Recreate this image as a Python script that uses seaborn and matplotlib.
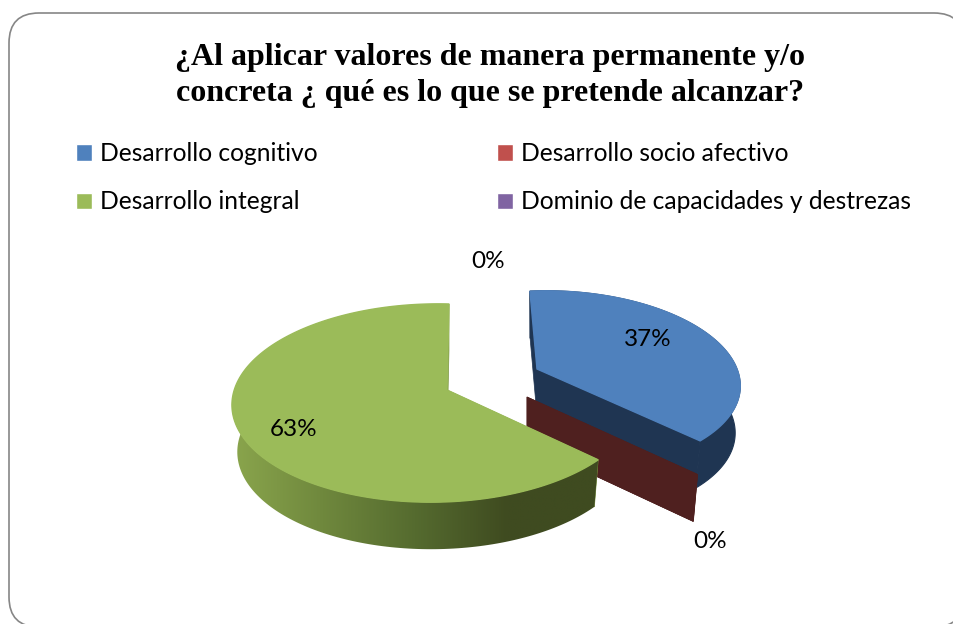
# 3d style pie of the survey answers, side walls are drawn by hand from the pie angles
import numpy as np
import matplotlib
matplotlib.use('Agg')
import matplotlib.pyplot as plt
from matplotlib.colors import LinearSegmentedColormap
from matplotlib.patches import FancyBboxPatch, Patch, Polygon
import seaborn as sns

title = '¿Al aplicar valores de manera permanente y/o\nconcreta ¿ qué es lo que se pretende alcanzar?'
categories = ['Desarrollo cognitivo', 'Desarrollo socio afectivo',
              'Desarrollo integral', 'Dominio de capacidades y destrezas']
values = [37, 0, 63, 0]

sns.set_theme(style='white')
palette = sns.color_palette(['#4f81bd', '#c0504d', '#9bbb59', '#8064a2'])
wall_colors = ['#1f3552', '#4f201f', '#7f9a45', None]
shade_colors = ['#8ba64d', '#6f883d', '#556b2f', '#3f4b20', '#3f4b20']

# projection of every slice onto the page: apex x, apex y, A, B, S, k, m
views = [(537, 369, 180, 88, -8, 0.13, -0.10),
         (527, 397, 213, 103, 0, 0.13, 0.0),
         (447, 390, 200, 97.3, 2.3, 0.131, 0.06),
         (447, 390, 200, 97.3, 2.3, 0.131, 0.06)]
depth = 47
shrink = 0.975
label_pos = [(648, 339), (710, 542), (294, 430), (488, 261)]
draw_order = [0, 1, 2]


def project(view, theta, lower=False):
    x0, y0, a, b, s, k, m = view
    u = np.cos(np.radians(theta))
    v = np.sin(np.radians(theta))
    w = 1 + k * v + m * u
    px = (a * u + s * v) / w
    py = b * v / w
    if lower:
        return np.column_stack([x0 + px * shrink, y0 - py + depth])
    return np.column_stack([x0 + px, y0 - py])


fig = plt.figure(figsize=(9.54, 6.24), dpi=100)
ax = fig.add_axes([0, 0, 1, 1])

# the pie gives the slice angles from the values
wedges, _ = ax.pie(values, startangle=90, counterclock=False)
angles = [(w.theta1, w.theta2) for w in wedges]
for w in wedges:
    w.remove()

ax.set_aspect('auto')

frame = FancyBboxPatch((9, 13), 955, 614, boxstyle='round,pad=0,rounding_size=30',
                       fc='white', ec='#868686', lw=1.2)
ax.add_patch(frame)

cmap = LinearSegmentedColormap.from_list('green_side', shade_colors)

for i in draw_order:
    view = views[i]
    t1, t2 = angles[i]
    arc = np.linspace(t1, t2, 200)
    top = project(view, arc)
    low = project(view, arc, lower=True)
    apex_top = np.array([[view[0], view[1]]])
    apex_low = np.array([[view[0], view[1] + depth]])

    # walls first, then the top face covers what is hidden
    for t in (t1, t2):
        edge_top = project(view, np.array([t]))
        edge_low = project(view, np.array([t]), lower=True)
        wall = np.vstack([apex_top, edge_top, edge_low, apex_low])
        ax.add_patch(Polygon(wall, fc=wall_colors[i], ec=wall_colors[i], lw=0.5))

    rim = np.vstack([top, low[::-1]])
    if i == 2:
        rim_patch = Polygon(rim, fc='none', ec='none')
        ax.add_patch(rim_patch)
        grad = ax.imshow(np.linspace(0, 1, 256).reshape(1, -1), cmap=cmap, aspect='auto',
                         extent=(230, 600, 560, 400), zorder=1)
        grad.set_clip_path(rim_patch)
    else:
        ax.add_patch(Polygon(rim, fc=wall_colors[i], ec=wall_colors[i], lw=0.8))

    if t2 > t1:
        ax.add_patch(Polygon(np.vstack([apex_top, top]), fc=palette[i], ec=palette[i], lw=1, zorder=2))

ax.set_xlim(0, 954)
ax.set_ylim(624, 0)
ax.axis('off')

for value, pos in zip(values, label_pos):
    ax.text(pos[0], pos[1], f'{value}%', ha='center', va='center', fontsize=17.5,
            family='Lato', color='black', zorder=5)

ax.text(490, 75.5, title, ha='center', va='center', fontsize=23, fontweight='bold',
        family='Liberation Serif', color='black', linespacing=1.29)

# legend fills by column
handles = [Patch(fc=palette[0]), Patch(fc=palette[2]), Patch(fc=palette[1]), Patch(fc=palette[3])]
names = [categories[0], categories[2], categories[1], categories[3]]
ax.legend(handles, names, ncol=2, loc='upper left', bbox_to_anchor=(0.0797, 0.772), frameon=False,
          prop={'family': 'Lato', 'size': 17.7}, labelcolor='black', handlelength=0.65, handleheight=0.65,
          handletextpad=0.33, columnspacing=7.29, labelspacing=1.02, borderpad=0, borderaxespad=0)

fig.savefig('out.png', dpi=100)
